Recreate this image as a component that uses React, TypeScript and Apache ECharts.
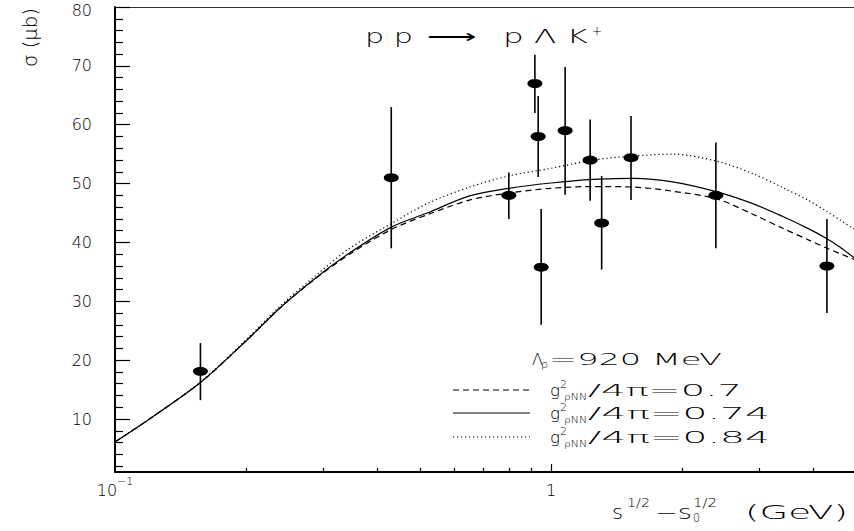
import React, { useEffect, useRef } from 'react';
import * as echarts from 'echarts';

const FONT = 'DejaVu Sans';
const WEIGHT = 200;

// ---- theory curves ----
const curveX = [0.1, 0.12, 0.157, 0.2, 0.24, 0.29, 0.345, 0.43, 0.52, 0.65, 0.8, 1.0, 1.25, 1.55, 1.9, 2.4, 2.9, 3.4, 3.9, 4.3, 4.6, 4.95];
const sigmaG070 = [6.1, 10.0, 16.2, 23.3, 29.0, 34.0, 38.0, 42.2, 44.7, 47.2, 48.4, 49.2, 49.5, 49.4, 48.7, 47.4, 44.8, 42.4, 40.4, 39.0, 38.1, 37.1];
const sigmaG074 = [6.1, 10.0, 16.2, 23.3, 29.0, 34.1, 38.2, 42.6, 45.0, 47.9, 49.2, 50.1, 50.7, 50.9, 50.3, 48.6, 46.6, 44.4, 42.3, 40.6, 39.2, 37.4];
const sigmaG084 = [6.1, 10.0, 16.3, 23.5, 29.3, 34.5, 39.0, 43.2, 46.6, 49.4, 51.3, 52.6, 54.0, 54.7, 55.0, 53.8, 51.7, 49.3, 47.1, 45.2, 43.8, 42.3];

// ---- data points with error bars ----
const ptX = [0.157, 0.43, 0.80, 0.918, 0.934, 0.949, 1.077, 1.229, 1.306, 1.525, 2.387, 4.29];
const ptY = [18.1, 51.0, 48.0, 67.0, 58.0, 35.8, 59.0, 54.0, 43.3, 54.4, 48.0, 36.0];
const ptLo = [13.2, 39.0, 44.0, 62.0, 51.1, 26.0, 48.1, 47.1, 35.4, 47.2, 39.0, 28.0];
const ptHi = [22.9, 63.0, 51.9, 71.9, 64.9, 45.7, 69.8, 60.9, 51.3, 61.5, 57.0, 44.0];

// ---- axis ticks / labels ----
const yMajorTicks = [10, 20, 30, 40, 50, 60, 70, 80];
const yMinorTicks = [2, 4, 6, 8, 12, 14, 16, 18, 22, 24, 26, 28, 32, 34, 36, 38, 42, 44, 46, 48, 52, 54, 56, 58, 62, 64, 66, 68, 72, 74, 76, 78];
const xMajorTicks = [1];
const xMinorTicks = [0.2, 0.3, 0.4, 0.5, 0.6, 0.7, 0.8, 0.9, 2, 3, 4];
const xLabelValues = [0.1, 1];

const legendLabels = ['0.7', '0.74', '0.84'];

export default function App() {
  const ref = useRef<HTMLDivElement>(null);

  useEffect(() => {
    if (!ref.current) return;
    const chart = echarts.init(ref.current, null, { renderer: 'svg' });
    const cv = document.createElement('canvas').getContext('2d') as CanvasRenderingContext2D;

    const txt = (text: string, x: number, y: number, size: number, width: number, extra: any = {}) => {
      cv.font = `${WEIGHT} ${size}px "${FONT}"`;
      const w = cv.measureText(text).width || 1;
      return {
        type: 'text',
        x,
        y,
        scaleX: width / w,
        silent: true,
        style: {
          text,
          fill: '#000',
          fontSize: size,
          fontFamily: FONT,
          fontWeight: WEIGHT,
          align: 'left',
          verticalAlign: 'middle',
          textAlign: 'left',
          textVerticalAlign: 'middle',
        },
        ...extra,
      };
    };

    const rowY = [390, 413, 437];
    const rowTextW = [154, 182, 182];
    const dashes: any[] = [[6, 4], null, [1.2, 2.8]];

    const legendEls: any[] = [];
    legendLabels.forEach((lab, i) => {
      const ly = rowY[i];
      const yc = ly + 0.8;
      const lineStyle: any = { stroke: '#000', lineWidth: 1.2 };
      if (dashes[i]) lineStyle.lineDash = dashes[i];
      legendEls.push({
        type: 'line',
        silent: true,
        shape: { x1: 453, y1: ly, x2: 530, y2: ly },
        style: lineStyle,
      });
      legendEls.push(txt('g', 550, yc, 16, 10));
      legendEls.push(txt('2', 560, yc - 7, 10, 7));
      legendEls.push(txt('ρNN', 564, yc + 6.5, 9, 23));
      legendEls.push(txt('/4π=' + lab, 588, yc, 16, rowTextW[i]));
    });

    const graphic = [
      // y-axis title
      txt('σ (μb)', 31, 67, 19, 59, { rotation: Math.PI / 2 }),
      // reaction title
      txt('p p', 365, 36, 20, 48),
      txt('⟶', 427, 36.5, 20, 50),
      txt('p Λ K', 503, 36, 20, 85),
      txt('+', 592, 31, 12, 10),
      // x-axis title
      txt('s', 612, 512.5, 19, 11),
      txt('1/2', 627, 503, 12, 23),
      txt('−s', 655, 512.5, 19, 37),
      txt('1/2', 693, 503, 12, 24),
      txt('0', 693, 518, 12, 7),
      txt('(GeV)', 745, 512.5, 19, 103),
      // legend header
      txt('Λ', 532, 359.5, 16, 11),
      txt('ρ', 541, 364, 10, 7),
      txt('=920 MeV', 549, 359.5, 16, 173),
      ...legendEls,
    ];

    const logAxisBase = { type: 'log', logBase: 10, min: 0.1, max: 4.95, gridIndex: 0 };
    const noSplit = { splitLine: { show: false }, minorTick: { show: false }, minorSplitLine: { show: false } };

    const option: any = {
      animation: false,
      grid: { left: 115, right: 0, top: 7, bottom: 59, containLabel: false, outerBoundsMode: 'none' },
      xAxis: [
        {
          ...logAxisBase,
          position: 'bottom',
          axisLine: { show: true, onZero: false, lineStyle: { color: '#000', width: 2 } },
          axisTick: { show: true, inside: true, length: 8, customValues: xMajorTicks, lineStyle: { color: '#000', width: 1.2 } },
          axisLabel: {
            show: true,
            customValues: xLabelValues,
            margin: 4,
            formatter: (v: number) => (v < 0.5 ? '{b|10}{sup|−1}' : '{b|1}'),
            rich: {
              b: { fontSize: 16, fontFamily: FONT, fontWeight: WEIGHT, color: '#000', lineHeight: 28 },
              sup: { fontSize: 11, fontFamily: FONT, fontWeight: WEIGHT, color: '#000', lineHeight: 11, verticalAlign: 'top' },
            },
          },
          ...noSplit,
        },
        {
          ...logAxisBase,
          position: 'bottom',
          axisLine: { show: false, onZero: false },
          axisTick: { show: true, inside: true, length: 4, customValues: xMinorTicks, lineStyle: { color: '#000', width: 1.2 } },
          axisLabel: { show: false },
          ...noSplit,
        },
        {
          ...logAxisBase,
          position: 'top',
          axisLine: { show: true, onZero: false, lineStyle: { color: '#333', width: 1 } },
          axisTick: { show: false },
          axisLabel: { show: false },
          ...noSplit,
        },
      ],
      yAxis: [
        {
          type: 'value',
          min: 1,
          max: 80,
          position: 'left',
          axisLine: { show: true, onZero: false, lineStyle: { color: '#000', width: 2 } },
          axisTick: { show: true, inside: true, length: 15, customValues: yMajorTicks, lineStyle: { color: '#000', width: 1.2 } },
          axisLabel: {
            show: true,
            customValues: yMajorTicks,
            margin: 23,
            color: '#000',
            fontSize: 16,
            fontFamily: FONT,
            fontWeight: WEIGHT,
            lineHeight: 12,
            formatter: (v: number) => (v >= 80 ? '{t|' + v + '}' : String(v)),
            rich: {
              t: { fontSize: 16, fontFamily: FONT, fontWeight: WEIGHT, color: '#000', lineHeight: 12, padding: [6, 0, 0, 0] },
            },
          },
          ...noSplit,
        },
        {
          type: 'value',
          min: 1,
          max: 80,
          position: 'left',
          axisLine: { show: false, onZero: false },
          axisTick: { show: true, inside: true, length: 8, customValues: yMinorTicks, lineStyle: { color: '#000', width: 1.2 } },
          axisLabel: { show: false },
          ...noSplit,
        },
      ],
      series: [
        {
          name: '0.84',
          type: 'line',
          data: curveX.map((x, i) => [x, sigmaG084[i]]),
          showSymbol: false,
          symbol: 'none',
          smooth: 0.3,
          lineStyle: { color: '#000', width: 1.2, type: [1.2, 2.8] },
        },
        {
          name: '0.74',
          type: 'line',
          data: curveX.map((x, i) => [x, sigmaG074[i]]),
          showSymbol: false,
          symbol: 'none',
          smooth: 0.3,
          lineStyle: { color: '#000', width: 1.2, type: 'solid' },
        },
        {
          name: '0.7',
          type: 'line',
          data: curveX.map((x, i) => [x, sigmaG070[i]]),
          showSymbol: false,
          symbol: 'none',
          smooth: 0.3,
          lineStyle: { color: '#000', width: 1.2, type: [6, 4] },
        },
        {
          name: 'errors',
          type: 'custom',
          data: ptX.map((x, i) => [x, ptLo[i], ptHi[i]]),
          encode: { x: 0, y: [1, 2] },
          renderItem: (params: any, api: any) => {
            const x = api.value(0);
            const p1 = api.coord([x, api.value(1)]);
            const p2 = api.coord([x, api.value(2)]);
            return {
              type: 'line',
              shape: { x1: p1[0], y1: p1[1], x2: p2[0], y2: p2[1] },
              style: { stroke: '#000', lineWidth: 1.6 },
            };
          },
          z: 4,
        },
        {
          name: 'data',
          type: 'scatter',
          data: ptX.map((x, i) => [x, ptY[i]]),
          symbol: 'circle',
          symbolSize: [15, 9],
          itemStyle: { color: '#000', opacity: 1 },
          z: 5,
        },
      ],
      graphic,
    };

    chart.setOption(option);
    return () => chart.dispose();
  }, []);

  return <div ref={ref} style={{ position: 'absolute', left: 0, top: 0, width: 854, height: 531, background: '#fff' }} />;
}
